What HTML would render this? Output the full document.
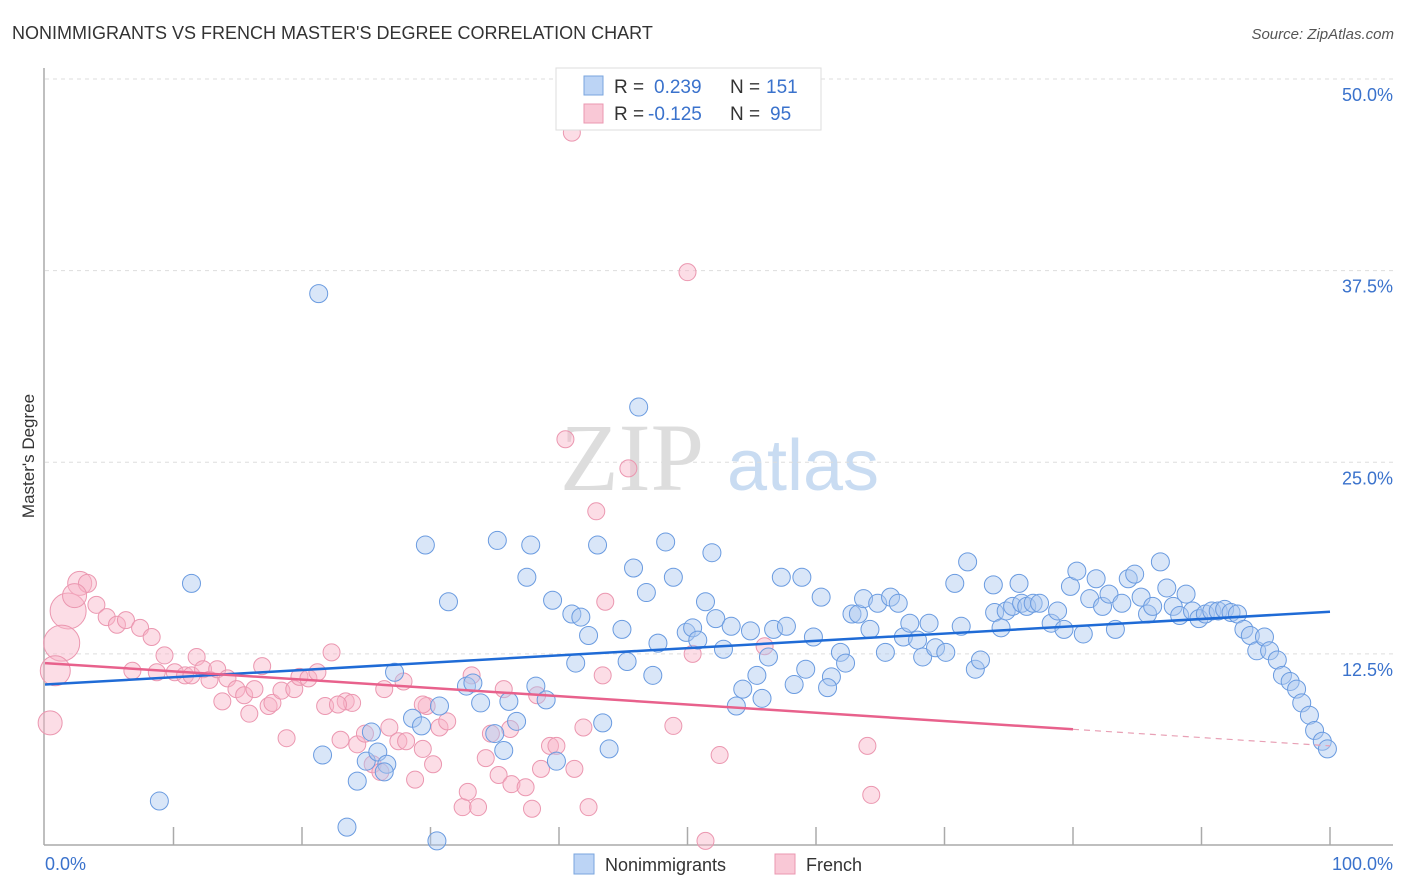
<!DOCTYPE html>
<html><head><meta charset="utf-8"><style>
body{margin:0;background:#fff;font-family:"Liberation Sans",sans-serif;}
</style></head><body>
<svg id="chart" width="1406" height="892" xmlns="http://www.w3.org/2000/svg" style="display:block">
<text x="12" y="39" font-size="18" fill="#333">NONIMMIGRANTS VS FRENCH MASTER'S DEGREE CORRELATION CHART</text>
<text x="1394" y="39" font-size="15" fill="#555" text-anchor="end" font-style="italic">Source: ZipAtlas.com</text>
<g>
<text x="632" y="490" font-size="96" fill="#ddd" font-family="Liberation Serif,serif" text-anchor="middle">ZIP</text>
<text x="803" y="490" font-size="72" fill="#c9dcf2" text-anchor="middle">atlas</text>
</g>
<g id="grid"></g>
<g id="axes"></g>
<g id="pts"></g>
<g id="trends"></g>
<text transform="translate(34,456) rotate(-90)" font-size="17" fill="#333" text-anchor="middle">Master's Degree</text>
<g>
<rect x="556" y="68" width="265" height="62" fill="#fff" stroke="#ddd"/>
<rect x="584" y="76" width="19" height="19" fill="#bcd4f5" stroke="#7aa5de"/>
<rect x="584" y="104" width="19" height="19" fill="#f9c8d6" stroke="#eb97b0"/>
<text x="614" y="93" font-size="19" fill="#333">R = </text><text x="654" y="93" font-size="19" fill="#3a72cc">0.239</text>
<text x="730" y="93" font-size="19" fill="#333">N = </text><text x="766" y="93" font-size="19" fill="#3a72cc">151</text>
<text x="614" y="120" font-size="19" fill="#333">R = </text><text x="648" y="120" font-size="19" fill="#3a72cc">-0.125</text>
<text x="730" y="120" font-size="19" fill="#333">N = </text><text x="770" y="120" font-size="19" fill="#3a72cc">95</text>
</g>
<g>
<rect x="574" y="854" width="20" height="20" fill="#bcd4f5" stroke="#7aa5de"/>
<text x="605" y="871" font-size="18" fill="#333">Nonimmigrants</text>
<rect x="775" y="854" width="20" height="20" fill="#f9c8d6" stroke="#eb97b0"/>
<text x="806" y="871" font-size="18" fill="#333">French</text>
</g>
</svg>
<script>
const yTicks=[12.5,25,37.5,50];
const yTickLabels=["12.5%","25.0%","37.5%","50.0%"];
const xTicks=[0,10,20,30,40,50,60,70,80,90,100];
const blueX=[21.3,46.2,11.4,8.9,23.5,30.5,29.6,35.2,37.8,43.0,48.3,51.9,37.5,31.4,39.5,41.0,41.7,42.3,45.8,46.8,48.9,44.9,47.7,49.9,50.4,50.8,51.4,52.2,53.4,52.8,54.9,56.7,57.3,58.9,57.7,59.8,60.4,59.2,58.3,56.3,55.4,54.3,53.8,55.8,61.9,62.3,61.2,60.9,62.8,63.3,63.7,64.2,64.8,65.4,65.8,66.4,66.8,67.3,67.9,68.3,68.8,69.3,70.1,70.8,71.3,71.8,72.4,72.8,73.8,73.9,74.4,74.8,75.3,75.8,76.0,76.4,76.9,77.4,78.3,78.8,79.3,79.8,80.3,80.8,81.3,81.8,82.3,82.8,83.3,83.8,84.3,84.8,85.3,85.8,86.2,86.8,87.3,87.8,88.3,88.8,89.3,89.8,90.3,90.8,91.3,91.8,92.3,92.8,93.3,93.8,94.3,94.9,95.3,95.9,96.3,96.9,97.4,97.8,98.4,98.8,99.4,99.8,21.6,24.3,25.0,25.9,26.6,25.4,26.4,28.6,29.3,30.7,32.8,33.9,35.0,35.7,36.1,36.7,38.2,39.0,39.8,43.4,43.9,27.2,47.3,41.3,45.3,33.3];
const blueY=[36.0,28.6,17.1,2.9,1.2,0.3,19.6,19.9,19.6,19.6,19.8,19.1,17.5,15.9,16.0,15.1,14.9,13.7,18.1,16.5,17.5,14.1,13.2,13.9,14.2,13.4,15.9,14.8,14.3,12.8,14.0,14.1,17.5,17.5,14.3,13.6,16.2,11.5,10.5,12.3,11.1,10.2,9.1,9.6,12.6,11.9,11.0,10.3,15.1,15.1,16.1,14.1,15.8,12.6,16.2,15.8,13.6,14.5,13.4,12.3,14.5,12.9,12.6,17.1,14.3,18.5,11.5,12.1,17.0,15.2,14.2,15.3,15.6,17.1,15.8,15.6,15.8,15.8,14.5,15.3,14.1,16.9,17.9,13.8,16.1,17.4,15.6,16.4,14.1,15.8,17.4,17.7,16.2,15.1,15.6,18.5,16.8,15.6,15.0,16.4,15.3,14.8,15.1,15.3,15.3,15.4,15.2,15.1,14.1,13.7,12.7,13.6,12.7,12.1,11.1,10.7,10.2,9.3,8.5,7.5,6.8,6.3,5.9,4.2,5.5,6.1,5.3,7.4,4.8,8.3,7.8,9.1,10.4,9.3,7.3,6.2,9.4,8.1,10.4,9.5,5.5,8.0,6.3,11.3,11.1,11.9,12.0,10.6];
const pinkX=[41.0,50.0,40.5,45.4,42.9,43.6,2.7,3.3,1.8,1.3,0.8,0.4,2.3,4.0,4.8,5.6,6.3,7.4,8.3,6.8,8.7,9.3,10.1,10.9,11.4,11.8,12.3,12.8,13.4,14.2,14.9,13.8,15.5,15.9,16.3,16.9,17.4,17.7,18.4,18.8,19.4,19.8,20.5,21.2,22.3,21.8,23.0,23.4,23.9,24.3,24.9,25.5,26.1,26.4,26.8,27.5,28.1,28.8,29.4,29.7,30.2,30.7,31.3,32.5,32.9,33.2,33.7,34.3,34.7,35.3,35.7,36.2,36.3,37.4,37.9,38.3,38.6,39.3,39.8,41.2,41.9,42.3,43.4,48.9,50.4,51.4,52.5,56.0,64.0,64.3,22.8,27.9,29.4];
const pinkY=[46.5,37.4,26.5,24.6,21.8,15.9,17.1,17.1,15.3,13.2,11.4,8.0,16.3,15.7,14.9,14.4,14.7,14.2,13.6,11.4,11.3,12.4,11.3,11.1,11.1,12.3,11.5,10.8,11.5,10.9,10.2,9.4,9.8,8.6,10.2,11.7,9.1,9.3,10.1,7.0,10.2,11.0,10.9,11.3,12.6,9.1,6.9,9.4,9.3,6.6,7.3,5.3,4.8,10.2,7.7,6.8,6.8,4.3,6.3,9.1,5.3,7.7,8.1,2.5,3.5,11.1,2.5,5.7,7.3,4.6,10.2,7.6,4.0,3.8,2.4,9.8,5.0,6.5,6.5,5.0,7.7,2.5,11.1,7.8,12.5,0.3,5.9,13.0,6.5,3.3,9.2,10.7,9.2];
const pinkBig=[0,0,0,0,0,0,12,9,18,18,15,12,12];
const blueTrend=[10.5,15.25];
const pinkTrend=[11.9,6.5];
const pinkSolidEnd=80;

const NS="http://www.w3.org/2000/svg";
const X=v=>45+v*12.85, Y=v=>845.5-v*15.33;
function mk(tag,attrs,parent){const e=document.createElementNS(NS,tag);for(const k in attrs)e.setAttribute(k,attrs[k]);parent.appendChild(e);return e;}
const grid=document.getElementById('grid'),axes=document.getElementById('axes'),pts=document.getElementById('pts'),tr=document.getElementById('trends');
yTicks.forEach((t,i)=>{
 const l=mk('line',{x1:45,x2:1393,y1:Y(t),y2:Y(t),stroke:'#ddd','stroke-dasharray':'4,4'},grid);
 
 
 const tx=mk('text',{x:1393,y:Y(t)+22,'font-size':18,fill:'#3a72cc','text-anchor':'end'},grid);
 tx.textContent=yTickLabels[i];
 
 
});
const ya=mk('line',{x1:44,x2:44,y1:68,y2:845,stroke:'#aaa','stroke-width':1.5},axes);


const xa=mk('line',{x1:44,x2:1393,y1:845,y2:845,stroke:'#aaa','stroke-width':1.5},axes);


xTicks.forEach(t=>{if(t===0)return;const l=mk('line',{x1:X(t),x2:X(t),y1:827,y2:845,stroke:'#aaa','stroke-width':1.5},axes);
 
 });
const x0=mk('text',{x:45,y:870,'font-size':18,fill:'#3a72cc'},axes);x0.textContent='0.0%';


const x1=mk('text',{x:1393,y:870,'font-size':18,fill:'#3a72cc','text-anchor':'end'},axes);x1.textContent='100.0%';


pinkX.forEach((v,i)=>{const c=mk('circle',{cx:X(v),cy:Y(pinkY[i]),r:pinkBig[i]||8.5,fill:'rgba(248,180,200,0.45)',stroke:'#eb97b0','stroke-width':1},pts);
 
 });
blueX.forEach((v,i)=>{const c=mk('circle',{cx:X(v),cy:Y(blueY[i]),r:9,fill:'rgba(170,200,240,0.45)',stroke:'#6a9be0','stroke-width':1},pts);
 
 });
const bt=mk('line',{x1:X(0),y1:Y(blueTrend[0]),x2:X(100),y2:Y(blueTrend[1]),stroke:'#1f6bd6','stroke-width':2.5},tr);


const pm=pinkTrend[0]+(pinkTrend[1]-pinkTrend[0])*pinkSolidEnd/100;
const pt=mk('line',{x1:X(0),y1:Y(pinkTrend[0]),x2:X(pinkSolidEnd),y2:Y(pm),stroke:'#e8618c','stroke-width':2.5},tr);


const pd=mk('line',{x1:X(pinkSolidEnd),y1:Y(pm),x2:X(100),y2:Y(pinkTrend[1]),stroke:'#e8a0b5','stroke-width':1.2,'stroke-dasharray':'6,5'},tr);


</script>
</body></html>
